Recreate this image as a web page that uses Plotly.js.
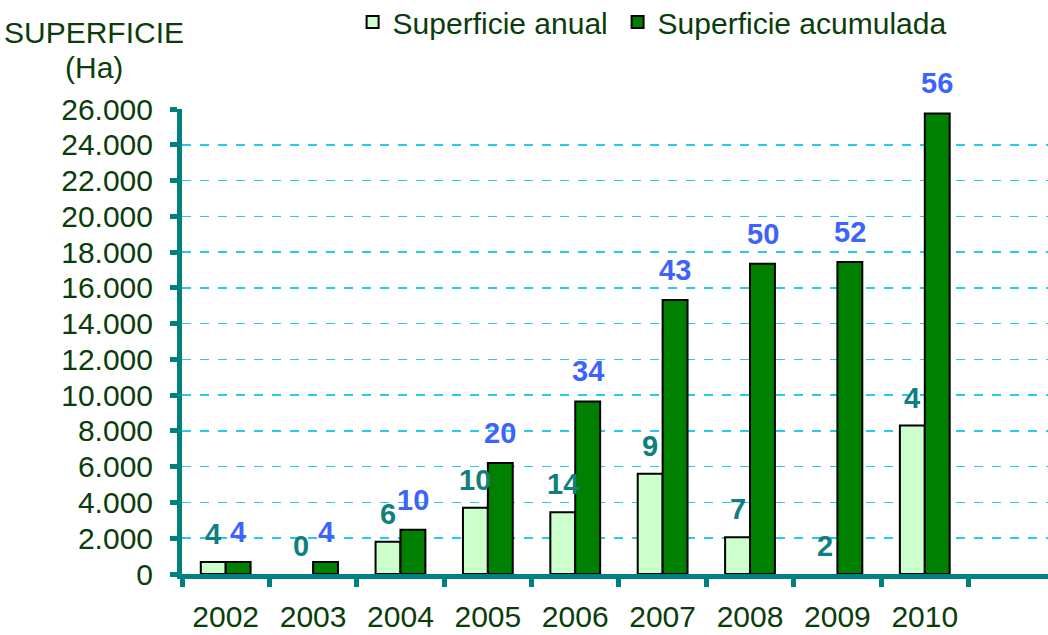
<!DOCTYPE html>
<html>
<head>
<meta charset="utf-8">
<script src="https://cdn.plot.ly/plotly-3.0.1.min.js"></script>
<style>html,body{margin:0;padding:0;background:#fff;}#chart{width:1048px;height:635px;}</style>
</head>
<body>
<div id="chart"></div>
<script>
const years = ['2002','2003','2004','2005','2006','2007','2008','2009','2010'];
const superficieAnual = [670, 0, 1800, 3700, 3450, 5600, 2050, 0, 8300];
const superficieAcumulada = [670, 670, 2480, 6200, 9650, 15320, 17350, 17450, 25750];
const labelsAnual = ['4','0','6','10','14','9','7','2','4'];
const labelsAcumulada = ['4','4','10','20','34','43','50','52','56'];
const yTicks = [0,2000,4000,6000,8000,10000,12000,14000,16000,18000,20000,22000,24000,26000];

const FONT = 'Arial, "Liberation Sans", sans-serif';
const TXT = '#0b3d0b';
const FS = 30;

const traces = [
  {type:'bar', name:'Superficie anual', x: years, y: superficieAnual, legend:'legend',
   marker:{color:'#ccffcc', line:{color:'#000', width: superficieAnual.map(v => v > 0 ? 2 : 0)}}, hoverinfo:'none'},
  {type:'bar', name:'Superficie acumulada', x: years, y: superficieAcumulada, legend:'legend2',
   marker:{color:'#008000', line:{color:'#000', width: superficieAcumulada.map(v => v > 0 ? 2 : 0)}}, hoverinfo:'none'}
];

const annotations = [];
years.forEach((yr, i) => {
  annotations.push({x: i, y: superficieAnual[i], xref:'x', yref:'y', text: labelsAnual[i],
    showarrow:false, xshift:-12.5, yshift:28, font:{family:FONT, size:29, color:'#0f7f80', weight:'bold'}});
  annotations.push({x: i, y: superficieAcumulada[i], xref:'x', yref:'y', text: labelsAcumulada[i],
    showarrow:false, xshift:12.5, yshift:30, font:{family:FONT, size:29, color:'#3d63ff', weight:'bold'}});
});
annotations.push({xref:'paper', yref:'paper', x:-0.102, y:1.165, xanchor:'center', yanchor:'middle',
  text:'SUPERFICIE', showarrow:false, font:{family:FONT, size:FS, color:TXT}});
annotations.push({xref:'paper', yref:'paper', x:-0.102, y:1.09, xanchor:'center', yanchor:'middle',
  text:'(Ha)', showarrow:false, font:{family:FONT, size:FS, color:TXT}});

const legendBase = {orientation:'h', y:1.187, xanchor:'left', yanchor:'middle',
  font:{family:FONT, size:FS, color:TXT}, itemwidth:30, bgcolor:'rgba(0,0,0,0)'};

const layout = {
  width:1048, height:635,
  margin:{l:182, r:0, t:109, b:61, autoexpand:false},
  paper_bgcolor:'#fff', plot_bgcolor:'#fff',
  separators:',.',
  barmode:'group', bargap:0.43, bargroupgap:0,
  showlegend:true,
  legend: Object.assign({}, legendBase, {x:0.197}),
  legend2: Object.assign({}, legendBase, {x:0.503}),
  xaxis:{type:'category', range:[-0.5, 9.41], showline:true, linecolor:'#008080', linewidth:5,
    ticks:'outside', tickson:'boundaries', ticklen:8, tickwidth:5, tickcolor:'#008080',
    showgrid:false, zeroline:false, ticklabelstandoff:12,
    tickfont:{family:FONT, size:FS, color:TXT}},
  yaxis:{range:[0,26000], autorange:false, tickvals:yTicks, tickformat:',d',
    showline:true, linecolor:'#008080', linewidth:5,
    ticks:'outside', ticklen:7, tickwidth:5, tickcolor:'#008080',
    showgrid:true, gridcolor:'#22ccee', griddash:'dash', gridwidth:1.5,
    zeroline:false, ticklabelstandoff:11,
    tickfont:{family:FONT, size:FS, color:TXT}},
  annotations: annotations
};

Plotly.newPlot('chart', traces, layout, {displayModeBar:false, staticPlot:true});
</script>
</body>
</html>
